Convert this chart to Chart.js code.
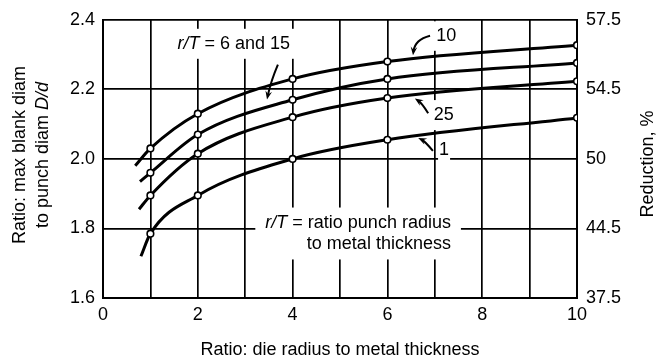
<!DOCTYPE html>
<html>
<head>
<meta charset="utf-8">
<script src="https://cdn.jsdelivr.net/npm/chart.js@4.4.1/dist/chart.umd.min.js"></script>
<style>
  html, body { margin: 0; padding: 0; background: #fff; }
</style>
</head>
<body>
<canvas id="chart" width="660" height="359"></canvas>
<script>
// die radius / metal thickness where the circles sit
const dieRatio = [1, 2, 4, 6, 10];
// max blank diam / punch diam for each r/T curve
const curve10 = [2.03, 2.13, 2.23, 2.28, 2.327];
const curve6and15 = [1.96, 2.07, 2.17, 2.23, 2.276];
const curve25 = [1.895, 2.015, 2.12, 2.175, 2.223];
const curve1 = [1.785, 1.895, 2.0, 2.055, 2.118];
// each curve starts a little left of the first circle
const startX = [0.68, 0.78, 0.76, 0.8];
const startY = [1.98, 1.935, 1.855, 1.72];

const ratioTicks = [1.6, 1.8, 2.0, 2.2, 2.4];
const reductionLabels = ['37.5', '44.5', '50', '54.5', '57.5'];
const xTickLabels = [0, 2, 4, 6, 8, 10];

const FAMILY = '"Liberation Sans", Arial, Helvetica, sans-serif';
const FS = 18;

function fontOf(size, italic) {
  return (italic ? 'italic ' : '') + size + 'px ' + FAMILY;
}

function richWidth(ctx, parts) {
  let w = 0;
  parts.forEach(p => { ctx.font = fontOf(FS, p[1]); w += ctx.measureText(p[0]).width; });
  return w;
}

function drawRich(ctx, parts, x, y, align) {
  const w = richWidth(ctx, parts);
  let cx = align === 'center' ? x - w / 2 : (align === 'right' ? x - w : x);
  ctx.textBaseline = 'middle';
  ctx.textAlign = 'left';
  ctx.fillStyle = '#000';
  parts.forEach(p => {
    ctx.font = fontOf(FS, p[1]);
    ctx.fillText(p[0], cx, y);
    cx += ctx.measureText(p[0]).width;
  });
}

const curves = [curve10, curve6and15, curve25, curve1];
const datasets = curves.map((vals, i) => ({
  data: [{ x: startX[i], y: startY[i] }].concat(dieRatio.map((x, j) => ({ x: x, y: vals[j] }))),
  borderColor: '#000',
  borderWidth: 3,
  pointRadius: [0, 3.3, 3.3, 3.3, 3.3, 3.3],
  pointBackgroundColor: '#fff',
  pointBorderColor: '#000',
  pointBorderWidth: 1.6,
  cubicInterpolationMode: 'monotone',
  fill: false
}));

// curve labels, in data units
const notes = [
  { lines: [[['r/T', true], [' = 6 and 15', false]]], x: 2.76, y: 2.331, align: 'center', padX: 5 },
  { lines: [[['10', false]]], x: 7.03, y: 2.354, align: 'left', padX: 3 },
  { lines: [[['25', false]]], x: 6.98, y: 2.126, align: 'left', padX: 3 },
  { lines: [[['1', false]]], x: 7.09, y: 2.026, align: 'left', padX: 1 },
  { lines: [[['r/T', true], [' = ratio punch radius', false]], [['to metal thickness', false]]],
    x: 7.34, y: 1.817, gap: 0.063, align: 'right', padX: 10 }
];

const arrows = [
  { from: [6.90, 2.354], ctrl: [6.58, 2.343], to: [6.54, 2.298] },
  { from: [3.69, 2.271], ctrl: [3.54, 2.223], to: [3.46, 2.171] },
  { from: [6.86, 2.131], ctrl: [6.73, 2.160], to: [6.58, 2.174] },
  { from: [6.96, 2.023], ctrl: [6.79, 2.051], to: [6.65, 2.060] }
];

const notesPlugin = {
  id: 'notes',
  beforeDatasetsDraw(chart) {
    const ctx = chart.ctx, xs = chart.scales.x, ys = chart.scales.y;
    const area = chart.chartArea;
    ctx.save();
    ctx.fillStyle = '#fff';
    notes.forEach(n => {
      const px = xs.getPixelForValue(n.x);
      const py = ys.getPixelForValue(n.y);
      const gapPx = n.gap ? ys.getPixelForValue(n.y - n.gap) - py : 0;
      let w = 0;
      n.lines.forEach(l => { w = Math.max(w, richWidth(ctx, l)); });
      let x0 = n.align === 'center' ? px - w / 2 : (n.align === 'right' ? px - w : px);
      let y0 = py - FS / 2 - 6;
      let y1 = py + gapPx * (n.lines.length - 1) + FS / 2 + 6;
      y0 = Math.max(y0, area.top + 1.5);
      ctx.fillRect(x0 - n.padX, y0, w + 2 * n.padX, y1 - y0);
    });
    ctx.restore();
  },
  afterDatasetsDraw(chart) {
    const ctx = chart.ctx, xs = chart.scales.x, ys = chart.scales.y;
    ctx.save();
    notes.forEach(n => {
      const px = xs.getPixelForValue(n.x);
      n.lines.forEach((l, k) => {
        const py = ys.getPixelForValue(n.y - (n.gap || 0) * k);
        drawRich(ctx, l, px, py, n.align);
      });
    });
    ctx.strokeStyle = '#000';
    ctx.fillStyle = '#000';
    ctx.lineWidth = 2;
    arrows.forEach(a => {
      const f = [xs.getPixelForValue(a.from[0]), ys.getPixelForValue(a.from[1])];
      const c = [xs.getPixelForValue(a.ctrl[0]), ys.getPixelForValue(a.ctrl[1])];
      const t = [xs.getPixelForValue(a.to[0]), ys.getPixelForValue(a.to[1])];
      const ang = Math.atan2(t[1] - c[1], t[0] - c[0]);
      const len = 9;
      ctx.beginPath();
      ctx.moveTo(f[0], f[1]);
      ctx.quadraticCurveTo(c[0], c[1], t[0] - Math.cos(ang) * 4, t[1] - Math.sin(ang) * 4);
      ctx.stroke();
      ctx.beginPath();
      ctx.moveTo(t[0], t[1]);
      ctx.lineTo(t[0] - len * Math.cos(ang - 0.38), t[1] - len * Math.sin(ang - 0.38));
      ctx.lineTo(t[0] - len * 0.6 * Math.cos(ang), t[1] - len * 0.6 * Math.sin(ang));
      ctx.lineTo(t[0] - len * Math.cos(ang + 0.38), t[1] - len * Math.sin(ang + 0.38));
      ctx.closePath();
      ctx.fill();
    });
    ctx.restore();
  },
  afterDraw(chart) {
    const ctx = chart.ctx, area = chart.chartArea;
    ctx.save();
    // left title, two lines
    ctx.translate(20, 155);
    ctx.rotate(-Math.PI / 2);
    drawRich(ctx, [['Ratio: max blank diam', false]], 0, 0, 'center');
    drawRich(ctx, [['to punch diam ', false], ['D/d', true]], 0, 23, 'center');
    ctx.restore();
    ctx.save();
    ctx.translate(648, 164);
    ctx.rotate(-Math.PI / 2);
    drawRich(ctx, [['Reduction, %', false]], 0, 0, 'center');
    ctx.restore();
    drawRich(ctx, [['Ratio: die radius to metal thickness', false]], (area.left + area.right) / 2, 350, 'center');
  }
};

const tickFont = { family: FAMILY, size: FS };

new Chart(document.getElementById('chart'), {
  type: 'line',
  data: { datasets: datasets },
  options: {
    responsive: false,
    animation: false,
    layout: { padding: { top: 18, left: 0, right: 0, bottom: 0 } },
    plugins: { legend: { display: false }, tooltip: { enabled: false } },
    scales: {
      x: {
        type: 'linear', min: 0, max: 10,
        ticks: {
          stepSize: 1, autoSkip: false, maxRotation: 0, padding: 6, color: '#000', font: tickFont,
          callback: v => xTickLabels.includes(v) ? String(v) : ''
        },
        grid: { color: '#000', lineWidth: 1.7, drawTicks: false },
        border: { color: '#000', width: 2 },
        afterFit: s => { s.height = 61; }
      },
      y: {
        min: 1.6, max: 2.4,
        ticks: { stepSize: 0.2, padding: 8, color: '#000', font: tickFont, callback: v => v.toFixed(1) },
        grid: { color: '#000', lineWidth: 1.7, drawTicks: false },
        border: { color: '#000', width: 2 },
        afterFit: s => { s.width = 103; }
      },
      y1: {
        position: 'right', min: 1.6, max: 2.4,
        ticks: {
          stepSize: 0.2, padding: 9, color: '#000', font: tickFont,
          callback: v => {
            const i = ratioTicks.findIndex(t => Math.abs(t - v) < 1e-6);
            return i >= 0 ? reductionLabels[i] : '';
          }
        },
        grid: { display: false, drawTicks: false },
        border: { color: '#000', width: 2 },
        afterFit: s => { s.width = 83; }
      }
    }
  },
  plugins: [notesPlugin]
});
</script>
</body>
</html>
